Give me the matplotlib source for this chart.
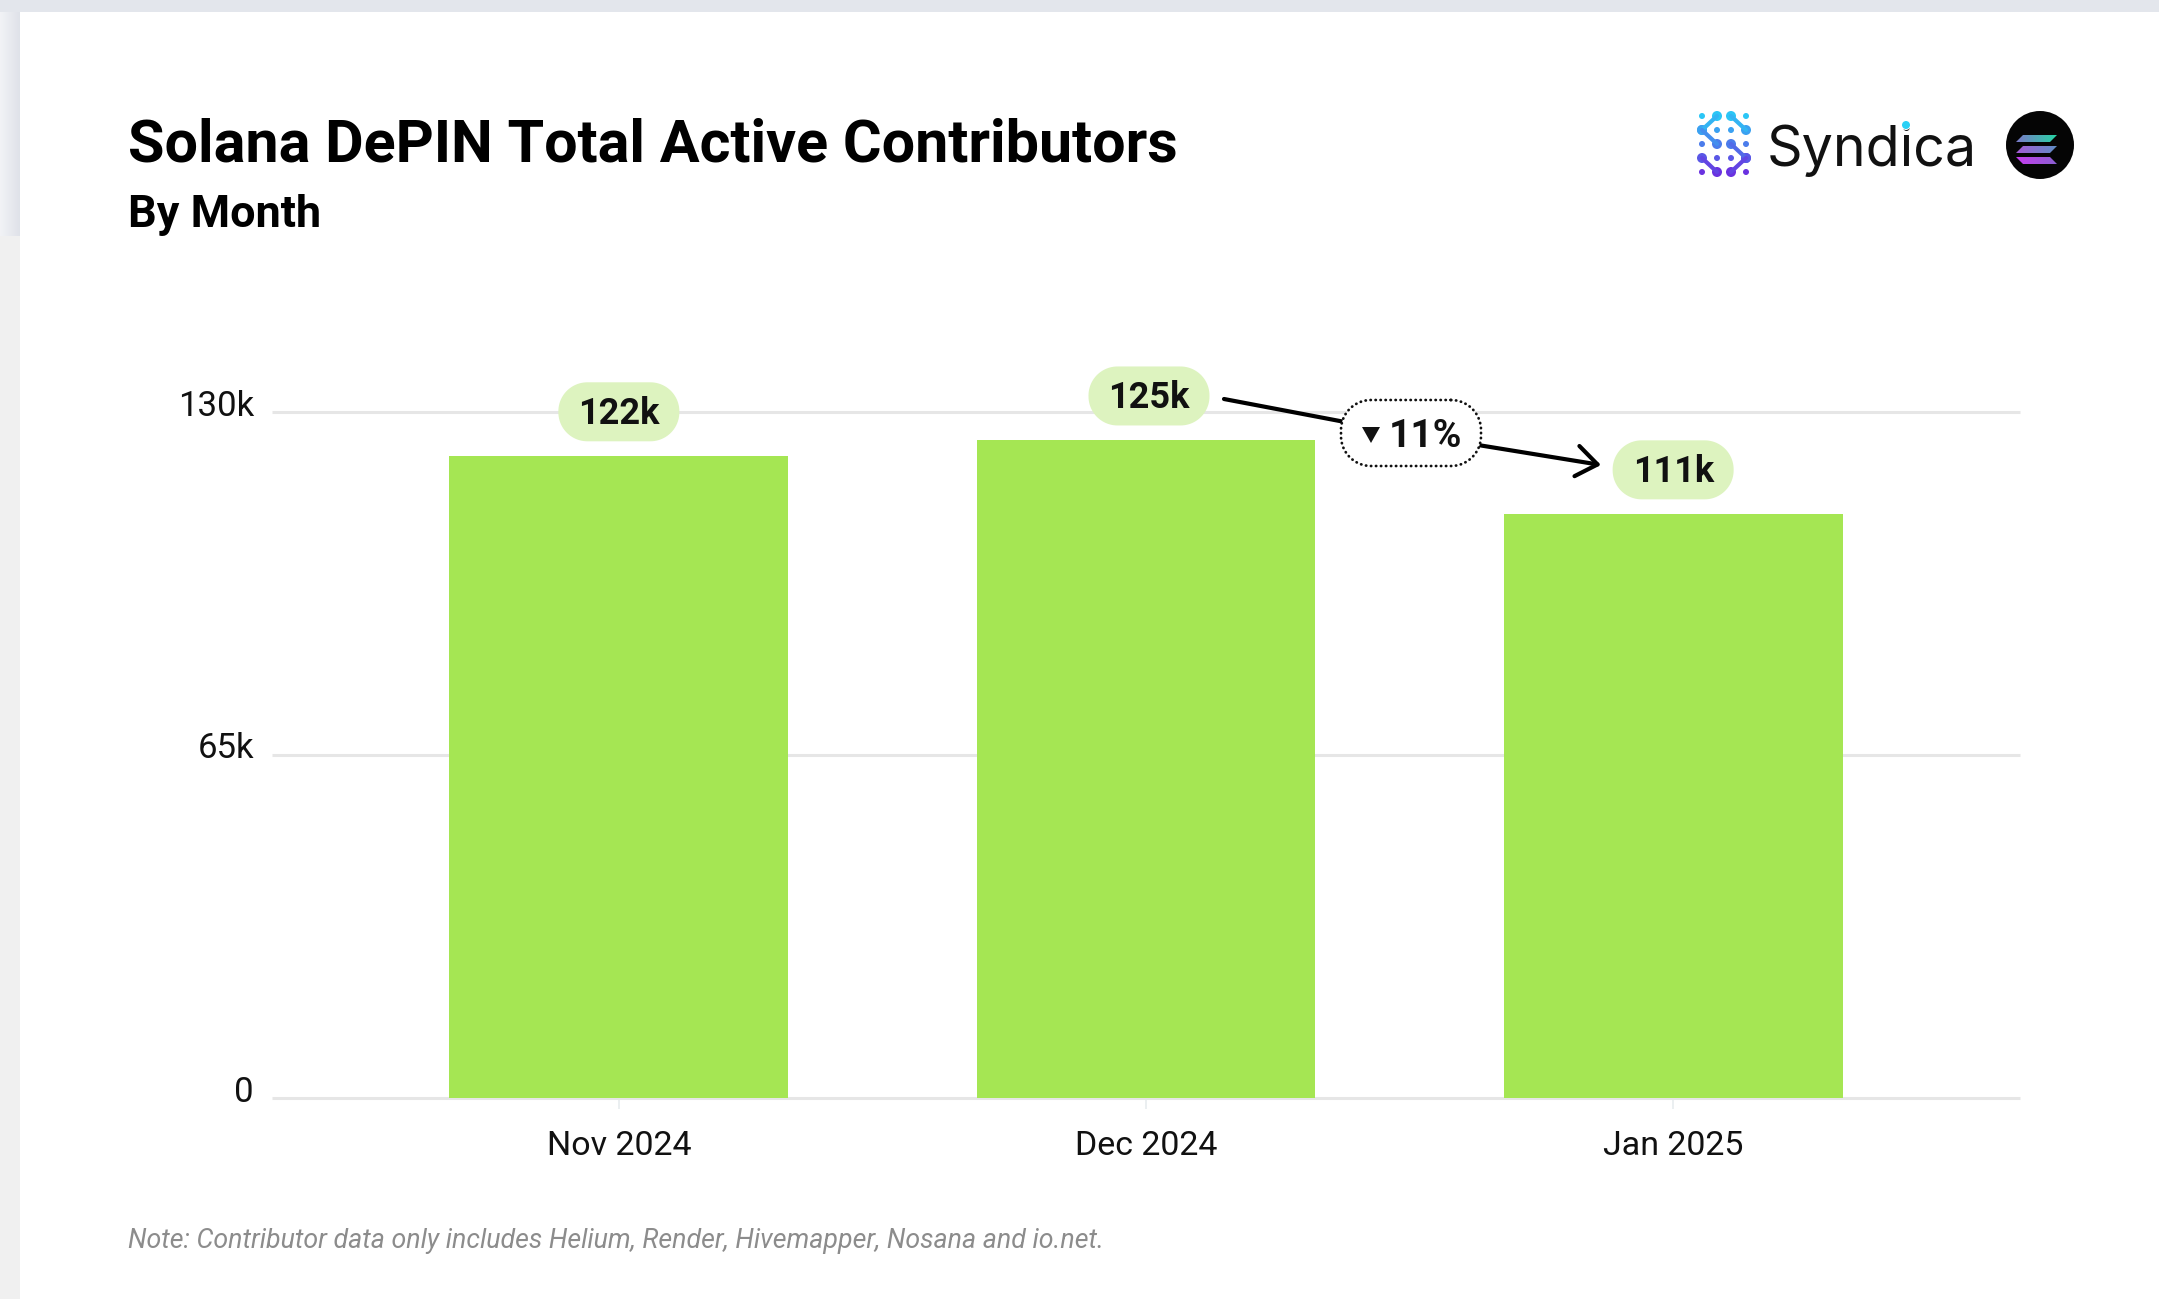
import numpy as np
import matplotlib
matplotlib.use("Agg")
import matplotlib.pyplot as plt
from matplotlib.patches import Rectangle, Circle, Polygon
from matplotlib.transforms import ScaledTranslation

plt.rcParams['font.family'] = ['Roboto', 'DejaVu Sans']

# datos
months = ["Nov 2024", "Dec 2024", "Jan 2025"]
contributors = [121700, 124700, 110700]
bar_labels = ["122k", "125k", "111k"]
y_ticks = [0, 65000, 130000]
y_tick_labels = ["0", "65k", "130k"]
change_label = "11%"

title = "Solana DePIN Total Active Contributors"
subtitle = "By Month"
note = "Note: Contributor data only includes Helium, Render, Hivemapper, Nosana and io.net."

W, H = 2159, 1299


def stadium(cx, cy, w, h, r):
    """Contorno de rectangulo con esquinas circulares."""
    pts = []
    for ox, oy, a0 in [(cx + w / 2 - r, cy - h / 2 + r, -90), (cx + w / 2 - r, cy + h / 2 - r, 0),
                       (cx - w / 2 + r, cy + h / 2 - r, 90), (cx - w / 2 + r, cy - h / 2 + r, 180)]:
        a = np.radians(np.linspace(a0, a0 + 90, 24))
        pts += list(zip(ox + r * np.cos(a), oy + r * np.sin(a)))
    return pts


fig = plt.figure(figsize=(W / 100, H / 100), dpi=100, facecolor="white")

# capa de fondo y anotaciones, en pixeles de la imagen
back = fig.add_axes([0, 0, 1, 1], zorder=0)
back.imshow(np.linspace(0, 1, 40).reshape(1, -1), extent=(0, 20, 236, 12), aspect="auto",
            cmap=matplotlib.colors.LinearSegmentedColormap.from_list("g", ["#f2f3f6", "#dfe2e9"]))
back.set_xlim(0, W)
back.set_ylim(H, 0)
back.axis("off")
back.add_patch(Rectangle((0, 0), W, 12, color="#e3e6ec", lw=0))
back.add_patch(Rectangle((0, 236), 20, H - 236, color="#f0f0f0", lw=0))

# grafico principal
ax = fig.add_axes([272 / W, 1 - 1098 / H, (2020 - 272) / W, (1098 - 412) / H], zorder=1)
ax.patch.set_alpha(0)
x = np.arange(len(months))
ax.bar(x, contributors, width=0.643, color="#a5e653", zorder=3)
ax.set_xlim(-0.658, 2.658)
ax.set_ylim(0, 130000)
ax.set_xticks(x)
ax.set_xticklabels(months, fontsize=24.5, color="#111111")
ax.set_yticks(y_ticks)
ax.set_yticklabels(y_tick_labels, fontsize=25, color="#111111")
ax.tick_params(axis="x", length=8, width=1.2, color="#e8ecef", pad=15)
ax.tick_params(axis="y", length=0, pad=13)
for lab in ax.get_yticklabels():
    lab.set_verticalalignment("center")
    lab.set_transform(lab.get_transform() + ScaledTranslation(0, 0.06, fig.dpi_scale_trans))
ax.grid(axis="y", color="#e6e6e6", lw=2.2, zorder=1, clip_on=False, solid_capstyle="butt")
ax.set_axisbelow(True)
for s in ax.spines.values():
    s.set_visible(False)

over = fig.add_axes([0, 0, 1, 1], zorder=2)
over.set_xlim(0, W)
over.set_ylim(H, 0)
over.axis("off")

fig.text(128 / W, 1 - 162 / H, title, fontsize=42.7, fontweight="bold", color="black", va="baseline")
fig.text(128 / W, 1 - 227 / H, subtitle, fontsize=32.4, fontweight="bold", color="black", va="baseline")
fig.text(128 / W, 1 - 1248 / H, note, fontsize=19.3, style="italic", color="#8c8c8c", va="baseline")

# etiquetas tipo pastilla sobre cada barra
fig.canvas.draw()
pill_w, pill_h = 121, 59
for i, (v, lab) in enumerate(zip(contributors, bar_labels)):
    px, py = ax.transData.transform((i, v))
    py = H - py - 44
    px = px + (3 if i == 1 else 0)
    over.add_patch(Polygon(stadium(px, py, pill_w, pill_h, 29), closed=True, fc="#ddf3bf", ec="none"))
    over.text(px, py + 2, lab, fontsize=26, fontweight="bold", color="#111111", ha="center", va="center")

# flecha de variacion
over.plot([1224, 1345], [399, 422], color="black", lw=3, solid_capstyle="round")
over.annotate("", xy=(1601, 465), xytext=(1478, 445),
              arrowprops=dict(arrowstyle="->,head_length=0.75,head_width=0.55", color="black", lw=3,
                              shrinkA=0, shrinkB=0, mutation_scale=20))
over.add_patch(Polygon(stadium(1411, 433, 140, 66, 30), closed=True, fc="white", ec="#111111",
                       lw=2, ls=(0, (0.1, 1.7)), capstyle="round", zorder=4))
over.add_patch(Polygon([(1362, 427), (1380, 427), (1371, 443)], closed=True, fc="#111111", ec="none", zorder=5))
over.text(1389, 436, change_label, fontsize=28, fontweight="bold", color="#111111", ha="left", va="center", zorder=5)

# logo Syndica
cols = [1702, 1717, 1731, 1746]
rows = [116, 130, 144, 158, 172]


def col_logo(y):
    t = (y - rows[0]) / (rows[-1] - rows[0])
    c0 = np.array([0x2b, 0xc6, 0xf6])
    c1 = np.array([0x6a, 0x32, 0xe0])
    return tuple((c0 + (c1 - c0) * t) / 255)


for cx, cy in [(0, 0), (3, 0), (1, 1), (2, 1), (0, 2), (3, 2), (1, 3), (2, 3), (0, 4), (3, 4)]:
    over.add_patch(Circle((cols[cx], rows[cy]), 3, fc=col_logo(rows[cy]), ec="none"))
for (a, b) in [((1, 0), (0, 1)), ((0, 1), (1, 2)), ((2, 0), (3, 1)), ((2, 2), (3, 3)), ((0, 3), (1, 4)), ((3, 3), (2, 4))]:
    p0 = (cols[a[0]], rows[a[1]])
    p1 = (cols[b[0]], rows[b[1]])
    over.plot([p0[0], p1[0]], [p0[1], p1[1]], color=col_logo((p0[1] + p1[1]) / 2), lw=3, solid_capstyle="round")
    over.add_patch(Circle(p0, 5, fc=col_logo(p0[1]), ec="none"))
    over.add_patch(Circle(p1, 5, fc=col_logo(p1[1]), ec="none"))
over.text(1767, 166, "Syndica", fontsize=40, family="Inter", color="#111111", va="baseline")
over.add_patch(Circle((1906, 125), 5, fc="white", ec="none", zorder=4))
over.add_patch(Circle((1906, 125), 4, fc="#2bd0f5", ec="none", zorder=5))

# logo Solana
over.add_patch(Circle((2040, 145), 34, fc="#050505", ec="none"))
stripes = [([2023, 2057, 2050, 2016], 135, 142, ["#7b79c9", "#27d5a5"]),
           ([2023, 2057, 2050, 2016], 146, 153, ["#a45bd6", "#5f8dc4"]),
           ([2016, 2050, 2057, 2023], 157, 164, ["#c63df0", "#8a5fd0"])]
for xs, y0, y1, cc in stripes:
    cm = matplotlib.colors.LinearSegmentedColormap.from_list("s", cc)
    im = over.imshow(np.linspace(0, 1, 50).reshape(1, -1), extent=(2016, 2057, y1, y0), aspect="auto", cmap=cm, zorder=3)
    pg = Polygon([(xs[0], y0), (xs[1], y0), (xs[2], y1), (xs[3], y1)], closed=True, transform=over.transData, fc="none", ec="none")
    over.add_patch(pg)
    im.set_clip_path(pg)
over.set_xlim(0, W)
over.set_ylim(H, 0)

fig.savefig("out.png", dpi=100)
